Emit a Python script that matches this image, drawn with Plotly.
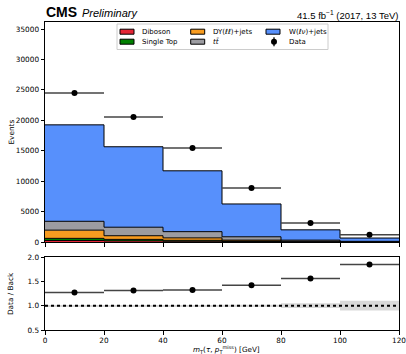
import numpy as np
import plotly.graph_objects as go

# ---------------- data ----------------
bin_edges = [0, 20, 40, 60, 80, 100, 120]
diboson = [250, 180, 120, 70, 30, 10]
single_top = [350, 250, 160, 90, 40, 15]
dy_jets = [1350, 600, 400, 150, 60, 25]
ttbar = [1450, 1400, 1020, 550, 180, 60]
w_jets = [15850, 13220, 10000, 5390, 1690, 540]
data = [24480, 20540, 15440, 8870, 3120, 1200]
bkg_rel_unc = [0.01, 0.01, 0.015, 0.02, 0.05, 0.10]

labels = ["Diboson", "Single Top", "DY(<i>ℓℓ</i>)+jets", "<i>tt̄</i>", "W(<i>ℓν</i>)+jets"]
colors = ["#e42536", "#008000", "#f89c20", "#9c9ca1", "#5790fc"]

main_ticks = [0, 5000, 10000, 15000, 20000, 25000, 30000, 35000]
ratio_ticks = [0.5, 1.0, 1.5, 2.0]

# ---------------- derived ----------------
edges = np.array(bin_edges, dtype=float)
centers = 0.5 * (edges[:-1] + edges[1:])
half_w = 0.5 * (edges[1:] - edges[:-1])
stack = np.array([diboson, single_top, dy_jets, ttbar, w_jets], dtype=float)
cum = np.cumsum(stack, axis=0)
total = cum[-1]
ratio = np.array(data) / total
unc = np.array(bkg_rel_unc)

fig = go.Figure()

for i in range(len(labels)):
    yv = list(cum[i]) + [cum[i][-1]]
    fig.add_trace(go.Scatter(
        x=edges, y=yv, mode="lines", line_shape="hv",
        line=dict(color="black", width=1),
        fill="tozeroy" if i == 0 else "tonexty",
        fillcolor=colors[i], name=labels[i], hoverinfo="skip",
        xaxis="x", yaxis="y"))

fig.add_trace(go.Scatter(
    x=centers, y=data, mode="markers",
    marker=dict(color="black", size=6),
    error_x=dict(type="data", array=half_w, width=0, thickness=1.5, color="#444444"),
    xaxis="x", yaxis="y", name="Data"))

# ratio band
fig.add_trace(go.Bar(
    x=centers, y=2 * unc, base=1 - unc, width=edges[1:] - edges[:-1],
    marker=dict(color="#d9d9d9", line=dict(width=0)),
    xaxis="x2", yaxis="y2", hoverinfo="skip"))

fig.add_trace(go.Scatter(
    x=centers, y=ratio, mode="markers",
    marker=dict(color="black", size=6),
    error_x=dict(type="data", array=half_w, width=0, thickness=1.5, color="#444444"),
    xaxis="x2", yaxis="y2"))

# ---------------- layout ----------------
L, R, T, B = 45, 7, 22, 24
W, H = 406, 354
pw = W - L - R
ph = H - T - B


def px(xp):
    return (xp - L) / pw


def py(yp):
    return (H - B - yp) / ph


tickfont = dict(family="DejaVu Sans", size=7.3, color="black")
axis_common = dict(showline=True, linecolor="black", linewidth=1, mirror=True,
                   ticks="outside", ticklen=3.5, tickwidth=1, tickcolor="black",
                   showgrid=False, zeroline=False, tickfont=tickfont,
                   ticklabeloverflow="allow", automargin=False)

shapes = []
annotations = []

# dotted line at 1
shapes.append(dict(type="line", xref="x2", yref="y2", x0=edges[0], x1=edges[-1], y0=1, y1=1,
                   line=dict(color="black", width=2, dash="dot")))

# legend box
shapes.append(dict(type="rect", xref="paper", yref="paper",
                   x0=px(117), x1=px(328), y0=py(49.5), y1=py(24),
                   line=dict(color="#cccccc", width=1), fillcolor="rgba(255,255,255,0.85)"))

col_patch_x = [120, 190.7, 266]
col_text_x = [140, 210.7, 286.7]
row_y = [31.7, 41.7]
leg_labels = labels + ["Data"]
for i, lab in enumerate(leg_labels):
    c, r = i // 2, i % 2
    yc = row_y[r]
    if i < len(labels):
        shapes.append(dict(type="rect", xref="paper", yref="paper",
                           x0=px(col_patch_x[c]), x1=px(col_patch_x[c] + 14),
                           y0=py(yc + 2.5), y1=py(yc - 2.5),
                           line=dict(color="black", width=1), fillcolor=colors[i]))
    else:
        xc = col_patch_x[c] + 8
        shapes.append(dict(type="line", xref="paper", yref="paper",
                           x0=px(xc), x1=px(xc), y0=py(yc + 4.5), y1=py(yc - 4.5),
                           line=dict(color="black", width=1.3)))
        shapes.append(dict(type="circle", xref="paper", yref="paper",
                           x0=px(xc - 3), x1=px(xc + 3), y0=py(yc + 3), y1=py(yc - 3),
                           line=dict(color="black", width=0), fillcolor="black"))
    annotations.append(dict(text=lab, xref="paper", yref="paper", x=px(col_text_x[c]), y=py(yc),
                            xanchor="left", yanchor="middle", showarrow=False,
                            font=dict(family="DejaVu Sans", size=7, color="black")))

annotations += [
    dict(text="<b>CMS</b>", xref="paper", yref="paper", x=px(44), y=py(12.5),
         xanchor="left", yanchor="middle", showarrow=False,
         font=dict(family="Liberation Sans", size=14, color="black")),
    dict(text="<i>Preliminary</i>", xref="paper", yref="paper", x=px(79.5), y=py(13),
         xanchor="left", yanchor="middle", showarrow=False,
         font=dict(family="Liberation Sans", size=11, color="black")),
    dict(text="41.5 fb<sup>−1</sup> (2017, 13 TeV)", xref="paper", yref="paper", x=px(399.5), y=py(14.5),
         xanchor="right", yanchor="middle", showarrow=False,
         font=dict(family="Liberation Sans", size=9.5, color="black")),
    dict(text="Events", xref="paper", yref="paper", x=px(10.5), y=py(132), textangle=-90,
         xanchor="center", yanchor="middle", showarrow=False,
         font=dict(family="DejaVu Sans", size=7.3, color="black")),
    dict(text="Data / Back", xref="paper", yref="paper", x=px(10.5), y=py(293.5), textangle=-90,
         xanchor="center", yanchor="middle", showarrow=False,
         font=dict(family="DejaVu Sans", size=7.3, color="black")),
    dict(text="<i>m</i><sub>T</sub>(<i>τ</i>, <i>p</i><sub>T</sub><sup>miss</sup>) [GeV]",
         xref="paper", yref="paper", x=px(226), y=py(349),
         xanchor="center", yanchor="middle", showarrow=False,
         font=dict(family="DejaVu Sans", size=7.2, color="black")),
]

fig.update_layout(
    width=W, height=H,
    margin=dict(l=L, r=R, t=T, b=B, pad=0, autoexpand=False),
    paper_bgcolor="white", plot_bgcolor="white",
    showlegend=False, barmode="overlay",
    xaxis=dict(domain=[0, 1], range=[edges[0], edges[-1]], anchor="y",
               tickvals=bin_edges, showticklabels=False, **axis_common),
    yaxis=dict(domain=[py(242), 1], range=[0, 36150], anchor="x",
               tickvals=main_ticks, tickformat="d", **axis_common),
    xaxis2=dict(domain=[0, 1], range=[edges[0], edges[-1]], anchor="y2", matches="x",
                tickvals=bin_edges, **axis_common),
    yaxis2=dict(domain=[0, py(257)], range=[0.5, 2.0], anchor="x2",
                tickvals=ratio_ticks, tickformat=".1f", **axis_common),
    shapes=shapes, annotations=annotations,
)

fig.write_html("out.html", config={"displayModeBar": False},
               post_script="document.body.style.margin='0';document.body.style.overflow='hidden';")
